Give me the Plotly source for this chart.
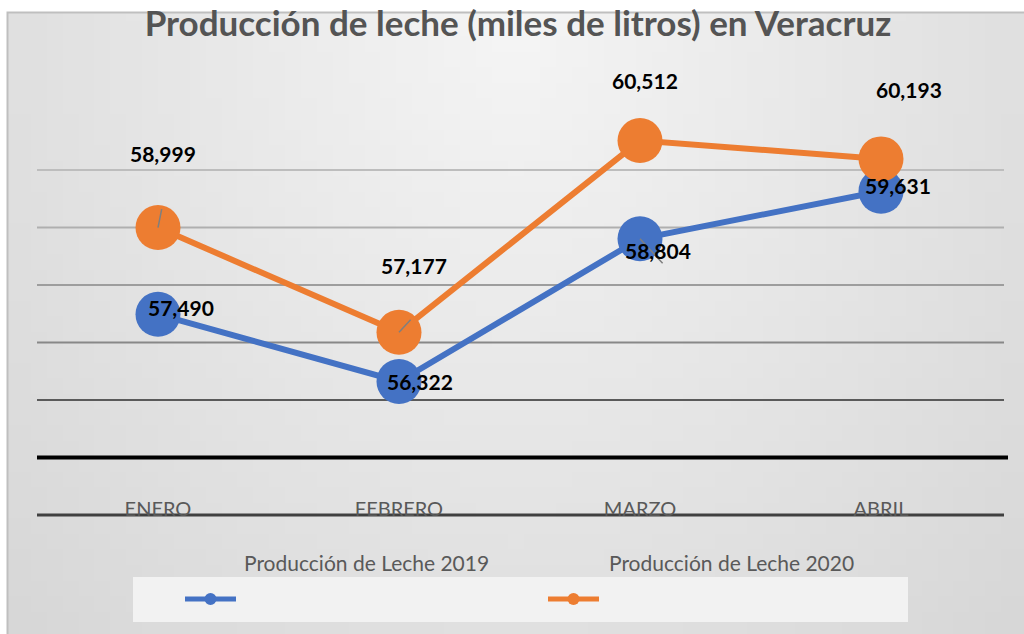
import base64
import struct
import zlib

import plotly.graph_objects as go

# ---------------- data ----------------
months = ["ENERO", "FEBRERO", "MARZO", "ABRIL"]
leche_2019 = [57490, 56322, 58804, 59631]
leche_2020 = [58999, 57177, 60512, 60193]
series_names = ["Producción de Leche 2019", "Producción de Leche 2020"]
title_text = "Producción de leche (miles de litros) en Veracruz"
grid_values = [60000, 59000, 58000, 57000, 56000, 55000, 54000]

# label offsets (px) for data labels
off_2019 = [(23, 7), (21, 0), (18, -12), (17, 6)]
off_2020 = [(5, 74), (15, 67), (5, 60), (28, 69)]
# small leader lines (px offsets of the far end), None = no leader
lead_2019 = [None, None, (24, 26), None]
lead_2020 = [(4, -20), (13, -14), None, None]

W, H = 1024, 634
BLUE = "#4472C4"
ORANGE = "#ED7D31"
FONT = "Lato"


# ---------------- background gradient image ----------------
def make_png(w, h, func):
    raw = b""
    for j in range(h):
        row = b"\x00"
        for i in range(w):
            v = func(i / (w - 1), j / (h - 1))
            row += bytes((v, v, v))
        raw += row

    def chunk(tag, data):
        c = struct.pack(">I", len(data)) + tag + data
        return c + struct.pack(">I", zlib.crc32(tag + data) & 0xFFFFFFFF)

    png = b"\x89PNG\r\n\x1a\n"
    png += chunk(b"IHDR", struct.pack(">IIBBBBB", w, h, 8, 2, 0, 0, 0))
    png += chunk(b"IDAT", zlib.compress(raw))
    png += chunk(b"IEND", b"")
    return "data:image/png;base64," + base64.b64encode(png).decode()


def grad(u, v):
    d = (((u - 0.5) / 0.5) ** 2 + v ** 2) ** 0.5 / (2 ** 0.5)
    return int(round(245 - 30 * min(d, 1)))


bg_uri = make_png(64, 40, grad)

fig = go.Figure()

fig.add_trace(go.Scatter(
    x=months, y=leche_2019, mode="lines+markers", name=series_names[0],
    line=dict(color=BLUE, width=6), marker=dict(color=BLUE, size=45),
    showlegend=False, hoverinfo="skip"))
fig.add_trace(go.Scatter(
    x=months, y=leche_2020, mode="lines+markers", name=series_names[1],
    line=dict(color=ORANGE, width=6), marker=dict(color=ORANGE, size=45),
    showlegend=False, hoverinfo="skip"))

# leader lines
for vals, leads in ((leche_2019, lead_2019), (leche_2020, lead_2020)):
    for m, v, ld in zip(months, vals, leads):
        if ld is None:
            continue
        fig.add_annotation(x=m, y=v, text="", showarrow=True, arrowhead=0,
                           ax=ld[0], ay=ld[1], arrowcolor="#7f7f7f",
                           arrowwidth=1.5, standoff=0, startstandoff=0)

# data labels
for vals, offs in ((leche_2019, off_2019), (leche_2020, off_2020)):
    for m, v, (dx, dy) in zip(months, vals, offs):
        fig.add_annotation(x=m, y=v, text=f"{v:,}", showarrow=False,
                           xshift=dx, yshift=dy,
                           font=dict(family=FONT, size=21, color="#000000",
                                     weight="bold"))

# gridlines
grid_colors = ["#bdbdbd", "#afafaf", "#9d9d9d", "#888888", "#5a5a5a", "#000000", "#404040"]
grid_widths = [2, 2, 2, 2, 2, 4, 3]
for gv, gc, gw in zip(grid_values, grid_colors, grid_widths):
    fig.add_shape(type="line", xref="paper", yref="y",
                  x0=37 / W, x1=(1008 if gw == 4 else 1004) / W, y0=gv, y1=gv,
                  line=dict(color=gc, width=gw), layer="below")

# chart border
fig.add_shape(type="rect", xref="paper", yref="paper",
              x0=7.5 / W, x1=1.01, y0=-0.01, y1=1 - 12.5 / H,
              line=dict(color="#bfbfbf", width=2), layer="below")

# legend box
fig.add_shape(type="rect", xref="paper", yref="paper",
              x0=133 / W, x1=908 / W, y0=1 - 622 / H, y1=1 - 577 / H,
              fillcolor="#f2f2f2", line=dict(width=0), layer="below")
for name, col, lx, tx in ((series_names[0], BLUE, 185, 366),
                          (series_names[1], ORANGE, 548, 731)):
    fig.add_shape(type="line", xref="paper", yref="paper",
                  x0=lx / W, x1=(lx + 51) / W, y0=1 - 599 / H, y1=1 - 599 / H,
                  line=dict(color=col, width=5))
    cx = lx + 25.5
    fig.add_shape(type="circle", xref="paper", yref="paper",
                  x0=(cx - 6) / W, x1=(cx + 6) / W,
                  y0=1 - 605 / H, y1=1 - 593 / H,
                  fillcolor=col, line=dict(width=0))
    fig.add_annotation(xref="paper", yref="paper", x=tx / W, y=1 - 562 / H,
                       text=name, showarrow=False, xanchor="center",
                       yanchor="middle",
                       font=dict(family=FONT, size=21, color="#595959"))

fig.add_layout_image(dict(source=bg_uri, xref="paper", yref="paper",
                          x=7 / W, y=1 - 12 / H, sizex=1 - 7 / W, sizey=1 - 12 / H,
                          sizing="stretch", xanchor="left", yanchor="top",
                          layer="below"))

px_per_unit = 345 / 6000
y_bottom = 54000 - 8 / px_per_unit

fig.update_layout(
    width=W, height=H,
    margin=dict(l=0, r=0, t=0, b=0),
    paper_bgcolor="#ffffff",
    plot_bgcolor="rgba(0,0,0,0)",
    title=dict(text=title_text, x=518 / W, xanchor="center",
               y=1 - 24 / H, yanchor="middle",
               font=dict(family=FONT, size=35, color="#545454", weight="bold")),
    xaxis=dict(domain=[37.5 / W, 1001.5 / W], range=[-0.5, 3.5],
               showgrid=False, zeroline=False, showline=False,
               ticks="", ticklabelposition="inside",
               tickfont=dict(family=FONT, size=20, color="#595959")),
    yaxis=dict(domain=[(H - 523) / H, (H - 112.5) / H], range=[y_bottom, 61000],
               showgrid=False, zeroline=False, showline=False,
               showticklabels=False, ticks=""),
    showlegend=False,
)

fig.write_html("out.html", config={"displayModeBar": False},
               post_script="document.body.style.margin='0';")
